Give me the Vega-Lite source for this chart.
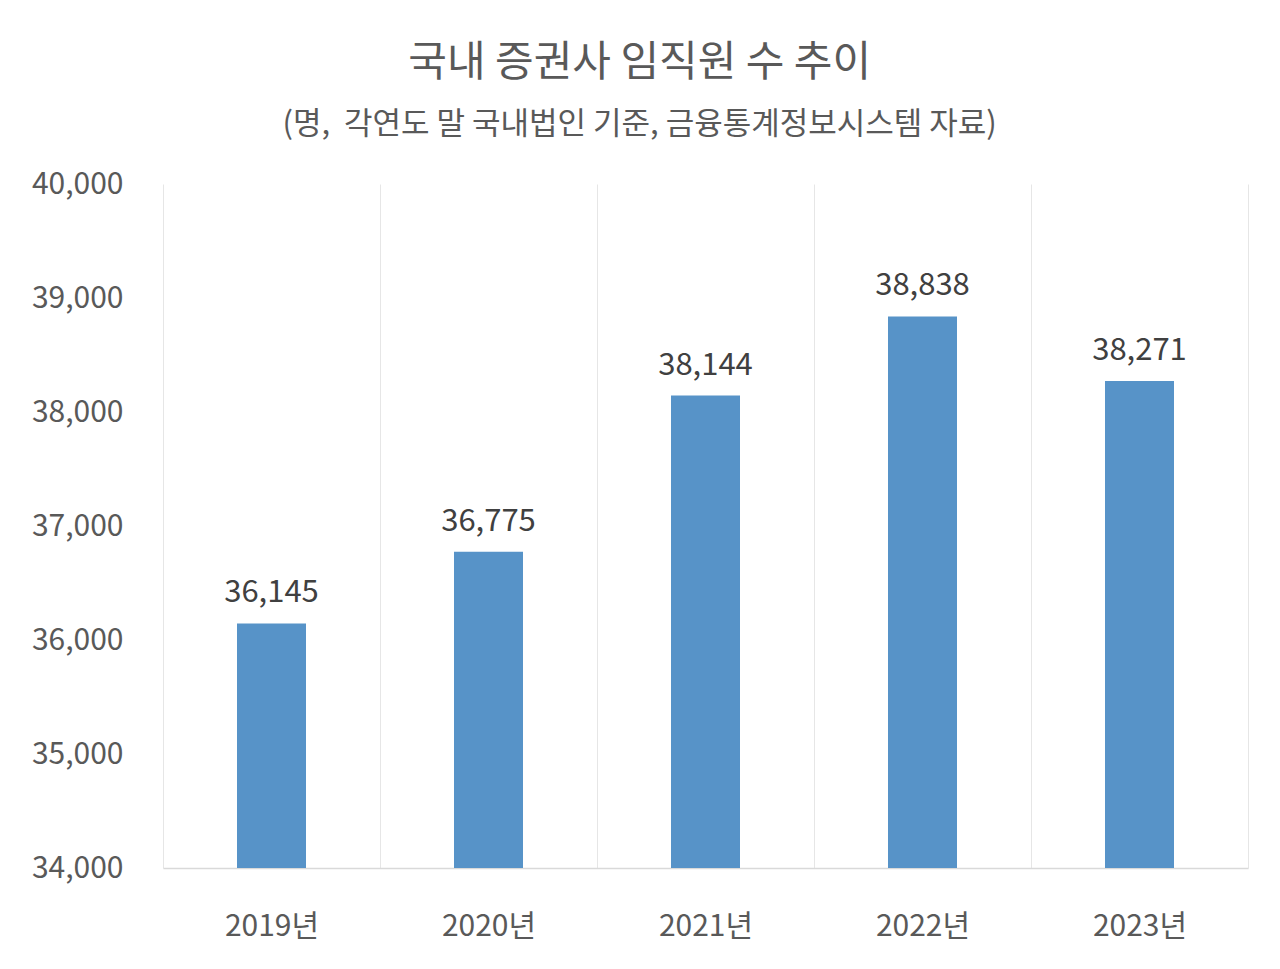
{
  "$schema": "https://vega.github.io/schema/vega-lite/v6.json",
  "width": 1085,
  "height": 684,
  "autosize": {"type": "none"},
  "padding": {"left": 163, "top": 184, "right": 32, "bottom": 101},
  "background": "white",
  "title": {
    "text": "국내 증권사 임직원 수 추이",
    "subtitle": "(명,\u00a0 각연도 말 국내법인 기준, 금융통계정보시스템 자료)",
    "anchor": "middle",
    "frame": "bounds",
    "font": "Noto Sans CJK KR",
    "fontSize": 42,
    "fontWeight": "normal",
    "color": "#595959",
    "subtitleFont": "Noto Sans CJK KR",
    "subtitleFontSize": 31,
    "subtitleColor": "#595959",
    "subtitlePadding": 25,
    "offset": 28
  },
  "data": {
    "values": [
      {"year": "2019년", "count": 36145},
      {"year": "2020년", "count": 36775},
      {"year": "2021년", "count": 38144},
      {"year": "2022년", "count": 38838},
      {"year": "2023년", "count": 38271}
    ]
  },
  "encoding": {
    "x": {
      "field": "year",
      "type": "nominal",
      "sort": null,
      "scale": {"paddingInner": 0, "paddingOuter": 0},
      "axis": {
        "title": null,
        "labelAngle": 0,
        "labelFont": "Noto Sans CJK KR",
        "labelFontSize": 30,
        "labelColor": "#595959",
        "labelPadding": 43,
        "ticks": false,
        "domainColor": "#D9D9D9",
        "domainWidth": 1.5,
        "grid": true,
        "tickBand": "extent",
        "gridColor": "#E6E6E6",
        "gridWidth": 1
      }
    },
    "y": {
      "field": "count",
      "type": "quantitative",
      "scale": {"domain": [34000, 40000], "zero": false, "nice": false},
      "axis": {
        "title": null,
        "values": [34000, 35000, 36000, 37000, 38000, 39000, 40000],
        "format": ",d",
        "labelFont": "Noto Sans CJK KR",
        "labelFontSize": 30,
        "labelColor": "#595959",
        "labelPadding": 40,
        "ticks": false,
        "domain": false,
        "grid": false
      }
    }
  },
  "layer": [
    {
      "mark": {"type": "bar", "color": "#5793C8", "width": {"band": 0.318}},
      "encoding": {"y2": {"datum": 34000}}
    },
    {
      "mark": {
        "type": "text",
        "baseline": "alphabetic",
        "dy": -21,
        "font": "Noto Sans CJK KR",
        "fontSize": 31,
        "color": "#404040"
      },
      "encoding": {"text": {"field": "count", "type": "quantitative", "format": ",d"}}
    }
  ],
  "config": {"view": {"stroke": null}}
}
